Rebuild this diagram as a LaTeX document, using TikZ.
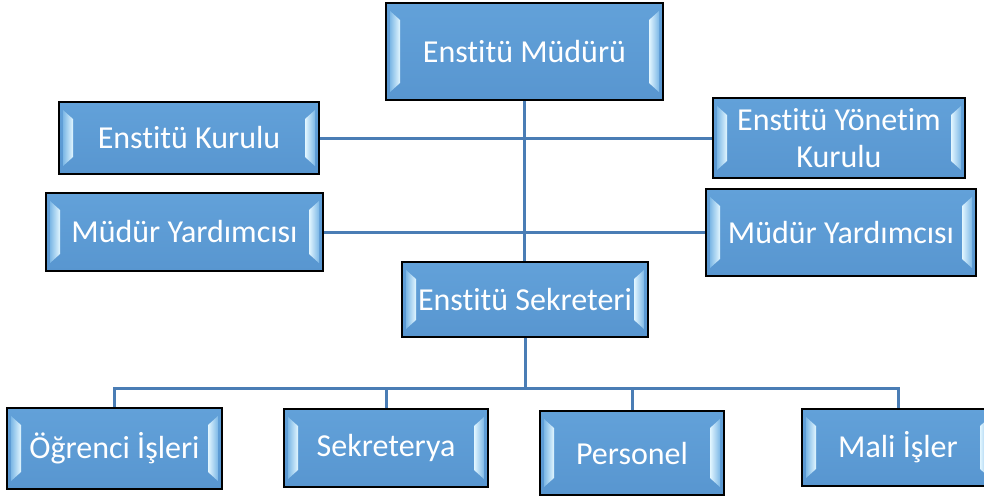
\documentclass[tikz,border=0pt]{standalone}
\usepackage{fontspec}
\setmainfont{Carlito}[RawFeature={-liga;-clig;-calt;-dlig}]
\usetikzlibrary{calc}
\newcommand{\nlg}{\kern0pt}
\definecolor{boxtop}{HTML}{62A1D9}
\definecolor{boxbot}{HTML}{5896D0}
\definecolor{barhi}{HTML}{E2F6FF}
\definecolor{barlo}{HTML}{7DB8E6}
\definecolor{linkblue}{HTML}{4A7DB5}
\tikzset{
  orgbox/.style={draw=black, line width=1.6pt, top color=boxtop, bottom color=boxbot,
    text=white, font=\fontsize{32}{37}\selectfont, align=center, inner sep=0pt,
    path picture={
      \coordinate (pnw) at (path picture bounding box.north west);
      \coordinate (pse) at (path picture bounding box.south east);
      \coordinate (pne) at (path picture bounding box.north east);
      \coordinate (psw) at (path picture bounding box.south west);
      \shade[left color=barlo, right color=barhi]
        ($(pnw)+(4pt,-8pt)$) -- ($(pnw)+(14pt,-17pt)$) -- ($(psw)+(14pt,17pt)$) -- ($(psw)+(4pt,8pt)$) -- cycle;
      \shade[left color=barhi, right color=barlo]
        ($(pne)+(-14pt,-17pt)$) -- ($(pne)+(-4pt,-8pt)$) -- ($(pse)+(-4pt,8pt)$) -- ($(pse)+(-14pt,17pt)$) -- cycle;
    }},
  conn/.style={draw=linkblue, line width=3pt}
}
\begin{document}
\begin{tikzpicture}[x=1pt,y=-1pt]
\useasboundingbox (0,0) rectangle (984,496);
\clip (0,0) rectangle (984,496);
\node[orgbox, minimum width=277pt, minimum height=97pt] (mud) at (524.5,51.5) {Enst\nlg itü Müdürü};
\node[orgbox, minimum width=260pt, minimum height=72pt] (kur) at (189,138) {Enst\nlg itü Kurulu};
\node[orgbox, minimum width=252pt, minimum height=80pt] (yon) at (839,138) {Enst\nlg itü Yönet\nlg im\\Kurulu};
\node[orgbox, minimum width=277pt, minimum height=78pt] (myl) at (184.5,232) {Müdür Yardımcısı};
\node[orgbox, minimum width=270pt, minimum height=87pt] (myr) at (841,232.5) {Müdür Yardımcısı};
\node[orgbox, minimum width=246pt, minimum height=75pt] (sek) at (525,299.5) {Enst\nlg itü Sekreteri};
\node[orgbox, minimum width=215pt, minimum height=81pt] (ogr) at (114.5,448.5) {Öğrenci İşleri};
\node[orgbox, minimum width=204pt, minimum height=78pt] (skt) at (386,448) {Sekreterya};
\node[orgbox, minimum width=184pt, minimum height=84pt] (per) at (632,453) {Personel};
\node[orgbox, minimum width=192pt, minimum height=77pt] (mal) at (898,447.5) {Mali İşler};
\coordinate (bus) at (525,388);
\draw[conn] (mud.south) -- (mud.south |- sek.north);
\draw[conn] (kur.east) -- (yon.west);
\draw[conn] (myl.east) -- (myl.east -| myr.west);
\draw[conn] (sek.south) -- (bus);
\draw[conn] (ogr.north) |- (bus) -| (mal.north);
\draw[conn] (skt.north) -- (skt.north |- bus);
\draw[conn] (per.north) -- (per.north |- bus);
\end{tikzpicture}
\end{document}
